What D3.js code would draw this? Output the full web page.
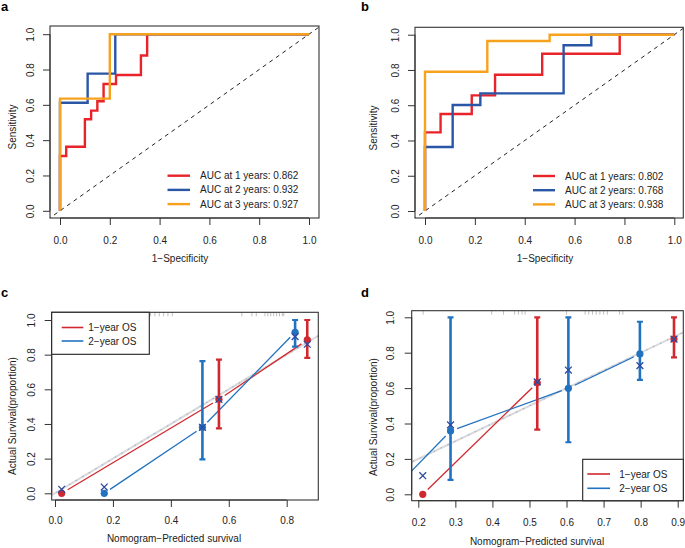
<!DOCTYPE html>
<html><head><meta charset="utf-8">
<script src="https://cdn.jsdelivr.net/npm/d3@7"></script>
<style>body{margin:0;background:#fff}svg{display:block}</style>
</head><body>
<svg id="chart" width="685" height="548"></svg>
<script>
// ---------------- DATA ----------------
const rocTicks = [0, 0.2, 0.4, 0.6, 0.8, 1.0];
const calTicksY = [0, 0.2, 0.4, 0.6, 0.8, 1.0];
const calTicksXc = [0, 0.2, 0.4, 0.6, 0.8];
const calTicksXd = [0.2, 0.3, 0.4, 0.5, 0.6, 0.7, 0.8, 0.9];

const rocALabels = ["AUC at 1 years: 0.862", "AUC at 2 years: 0.932", "AUC at 3 years: 0.927"];
const rocBLabels = ["AUC at 1 years: 0.802", "AUC at 2 years: 0.768", "AUC at 3 years: 0.938"];
const calLabels = ["1\u2212year OS", "2\u2212year OS"];

// panel a ROC corners (false positive rate, sensitivity)
const rocA_fpr1 = [0, 0, 0.025, 0.1, 0.125, 0.15, 0.175, 0.225, 0.325, 0.35, 1];
const rocA_tpr1 = [0, 0.31, 0.363, 0.518, 0.567, 0.62, 0.718, 0.769, 0.879, 1, 1];
const rocA_fpr2 = [0, 0, 0.111, 0.222, 1];
const rocA_tpr2 = [0, 0.612, 0.777, 1, 1];
const rocA_fpr3 = [0, 0, 0.2, 1];
const rocA_tpr3 = [0, 0.635, 1, 1];
// panel b
const rocB_fpr1 = [0, 0, 0.0625, 0.1875, 0.281, 0.47, 0.781, 1];
const rocB_tpr1 = [0, 0.446, 0.55, 0.656, 0.773, 0.892, 1, 1];
const rocB_fpr2 = [0, 0, 0.111, 0.222, 0.556, 0.667, 1];
const rocB_tpr2 = [0, 0.363, 0.601, 0.667, 0.94, 1, 1];
const rocB_fpr3 = [0, 0, 0.25, 0.5, 1];
const rocB_tpr3 = [0, 0.79, 0.964, 1, 1];

// panel c calibration
const calC_pred1 = [0.023, 0.566, 0.871];
const calC_obs1  = [0.0, 0.542, 0.885];
const calC_bc1   = [0.023, 0.542, 0.86];
const calC_lo1   = [null, 0.375, 0.782];
const calC_hi1   = [null, 0.771, 1.0];
const calC_join1 = [true, true];
const calC_pred2 = [0.17, 0.509, 0.829];
const calC_obs2  = [0.0, 0.381, 0.929];
const calC_bc2   = [0.036, 0.381, 0.904];
const calC_lo2   = [null, 0.196, 0.846];
const calC_hi2   = [null, 0.763, 1.0];
const calC_join2 = [true, true];
const calC_rug = [0.33, 0.345, 0.36, 0.375, 0.39, 0.405, 0.645, 0.68, 0.695, 0.725, 0.735, 0.745, 0.755, 0.765, 0.775, 0.785, 0.79];

// panel d calibration
const calD_pred1 = [0.212, 0.521, 0.89];
const calD_obs1  = [0.0, 0.63, 0.877];
const calD_bc1   = [0.105, 0.635, 0.877];
const calD_lo1   = [null, 0.365, 0.774];
const calD_hi1   = [null, 1.0, 1.0];
const calD_join1 = [true, false];
const calD_pred2 = [0.121, 0.287, 0.605, 0.798];
const calD_obs2  = [0.0, 0.358, 0.599, 0.793];
const calD_bc2   = [null, 0.392, 0.702, 0.727];
const calD_lo2   = [null, 0.082, 0.294, 0.646];
const calD_hi2   = [null, 1.0, 1.0, 0.975];
const calD_join2 = [true, true, true];
const calD_rug = [0.213, 0.398, 0.43, 0.46, 0.47, 0.48, 0.488, 0.6, 0.65, 0.66, 0.67, 0.68, 0.69, 0.70, 0.71, 0.743, 0.752];

// ---------------- STYLE ----------------
const FONT = "'Liberation Sans', Arial, Helvetica, sans-serif";
const TXT = "#222";
const rocColors = ["#e8232a", "#2a56a6", "#f7a21e"];
const calColors = ["#d0282f", "#2172c0"];
const xColor = "#2e4a9e";

const svg = d3.select("#chart");

function panel(cfg) {
  const g = svg.append("g");
  const [bx0, bx1, by0, by1] = cfg.box;
  const xs = d3.scaleLinear().domain(cfg.xd).range(cfg.xr);
  const ys = d3.scaleLinear().domain(cfg.yd).range(cfg.yr);
  const clipId = "clip-" + cfg.id;
  svg.append("clipPath").attr("id", clipId).append("rect")
    .attr("x", bx0).attr("y", by0).attr("width", bx1 - bx0).attr("height", by1 - by0);
  const inner = g.append("g").attr("clip-path", `url(#${clipId})`);
  // box
  g.append("rect").attr("x", bx0).attr("y", by0).attr("width", bx1 - bx0).attr("height", by1 - by0)
    .attr("fill", "none").attr("stroke", "#333").attr("stroke-width", 1.1);
  const fmt = d3.format(".1f");
  // x axis
  const xa = g.append("g").attr("transform", `translate(0,${by1})`)
    .call(d3.axisBottom(xs).tickValues(cfg.xt).tickFormat(fmt).tickSize(7).tickSizeOuter(0));
  xa.select(".domain").attr("d", `M${xs(cfg.xt[0])},0H${xs(cfg.xt[cfg.xt.length-1])}`).attr("stroke", "#333");
  xa.selectAll(".tick line").attr("stroke", "#333");
  xa.selectAll(".tick text").attr("y", cfg.xLabY - by1).attr("dy", "0.35em")
    .attr("font-family", FONT).attr("font-size", 10).attr("fill", TXT);
  // y axis
  const ya = g.append("g").attr("transform", `translate(${bx0},0)`)
    .call(d3.axisLeft(ys).tickValues(cfg.yt).tickFormat(fmt).tickSize(7).tickSizeOuter(0));
  ya.select(".domain").attr("d", `M0,${ys(cfg.yt[0])}V${ys(cfg.yt[cfg.yt.length-1])}`).attr("stroke", "#333");
  ya.selectAll(".tick line").attr("stroke", "#333");
  ya.selectAll(".tick text")
    .attr("x", null).attr("dy", null)
    .attr("transform", `translate(${cfg.yLabX - bx0},0) rotate(-90)`)
    .attr("text-anchor", "middle").attr("dominant-baseline", "central")
    .attr("font-family", FONT).attr("font-size", 10).attr("fill", TXT);
  ya.selectAll("text").attr("x", 0).attr("y", 0);
  xa.attr("font-family", FONT); ya.attr("font-family", FONT);
  // titles
  g.append("text").attr("x", cfg.xTitle[1]).attr("y", cfg.xTitle[2]).attr("text-anchor", "middle")
    .attr("dominant-baseline", "central").attr("font-family", FONT).attr("font-size", 10).attr("fill", TXT)
    .text(cfg.xTitle[0]);
  g.append("text").attr("transform", `translate(${cfg.yTitle[1]},${cfg.yTitle[2]}) rotate(-90)`)
    .attr("text-anchor", "middle").attr("dominant-baseline", "central")
    .attr("font-family", FONT).attr("font-size", 10).attr("fill", TXT).text(cfg.yTitle[0]);
  // panel letter
  g.append("text").attr("x", cfg.letter[1]).attr("y", cfg.letter[2]).attr("font-family", FONT)
    .attr("font-weight", "bold").attr("font-size", 13).attr("fill", "#000").text(cfg.letter[0]);
  return {g, inner, xs, ys};
}

// ---------------- ROC PANELS ----------------
function rocPanel(cfg, curves, labels, leg) {
  const p = panel(cfg);
  // chance line
  p.inner.append("line")
    .attr("x1", p.xs(-0.05)).attr("y1", p.ys(-0.05)).attr("x2", p.xs(1.05)).attr("y2", p.ys(1.05))
    .attr("stroke", "#222").attr("stroke-width", 1).attr("stroke-dasharray", "4,4");
  const line = d3.line().x(d => p.xs(d[0])).y(d => p.ys(d[1])).curve(d3.curveStepAfter);
  curves.forEach((c, i) => {
    const pts = c[0].map((f, k) => [f, c[1][k]]);
    p.inner.append("path").attr("d", line(pts)).attr("fill", "none")
      .attr("stroke", rocColors[i]).attr("stroke-width", 2.4);
  });
  labels.forEach((t, i) => {
    const y = leg.y + i * leg.dy;
    p.g.append("line").attr("x1", leg.x1).attr("x2", leg.x2).attr("y1", y).attr("y2", y)
      .attr("stroke", rocColors[i]).attr("stroke-width", 2.4);
    p.g.append("text").attr("x", leg.tx).attr("y", y).attr("dominant-baseline", "central")
      .attr("font-family", FONT).attr("font-size", 10).attr("fill", TXT).text(t);
  });
}

rocPanel({id: "a", box: [50, 319, 26, 218], xd: [0, 1], xr: [60, 309], yd: [0, 1], yr: [210.8, 34.2],
  xt: rocTicks, yt: rocTicks, xLabY: 240, yLabX: 30,
  xTitle: ["1\u2212Specificity", 180, 258], yTitle: ["Sensitivity", 12, 127], letter: ["a", 1, 11]},
  [[rocA_fpr1, rocA_tpr1], [rocA_fpr2, rocA_tpr2], [rocA_fpr3, rocA_tpr3]], rocALabels,
  {x1: 167.5, x2: 190, tx: 200, y: 175.7, dy: 14.2});

rocPanel({id: "b", box: [415, 683.3, 27.3, 218], xd: [0, 1], xr: [425, 674.3], yd: [0, 1], yr: [211, 34.7],
  xt: rocTicks, yt: rocTicks, xLabY: 240, yLabX: 395,
  xTitle: ["1\u2212Specificity", 545, 258], yTitle: ["Sensitivity", 373, 128], letter: ["b", 361, 11]},
  [[rocB_fpr1, rocB_tpr1], [rocB_fpr2, rocB_tpr2], [rocB_fpr3, rocB_tpr3]], rocBLabels,
  {x1: 533, x2: 555, tx: 565, y: 176, dy: 14.2});

// ---------------- CALIBRATION PANELS ----------------
function calPanel(cfg, series, rug, leg) {
  const p = panel(cfg);
  const [bx0, bx1, by0, by1] = cfg.box;
  // rug of predictions along top
  p.inner.selectAll(".rug").data(rug).join("line")
    .attr("x1", d => p.xs(d)).attr("x2", d => p.xs(d)).attr("y1", by0).attr("y2", by0 + 4)
    .attr("stroke", "#b0b0b0").attr("stroke-width", 0.8);
  // ideal line
  const lo = p.xs.invert(bx0) - 0.05, hi = p.xs.invert(bx1) + 0.05;
  p.inner.append("line").attr("x1", p.xs(lo)).attr("y1", p.ys(lo)).attr("x2", p.xs(hi)).attr("y2", p.ys(hi))
    .attr("stroke", "#d9d9d9").attr("stroke-width", 2);
  p.inner.append("line").attr("x1", p.xs(lo)).attr("y1", p.ys(lo)).attr("x2", p.xs(hi)).attr("y2", p.ys(hi))
    .attr("stroke", "#9fb5d8").attr("stroke-width", 1.4).attr("stroke-linecap", "round")
    .attr("stroke-dasharray", "0.1,7.5");
  const gap = 7;
  series.forEach((s, si) => {
    const col = calColors[si];
    // connecting lines with gaps at points
    for (let k = 0; k < s.pred.length - 1; k++) {
      if (!s.join[k]) continue;
      const xA = p.xs(s.pred[k]), yA = p.ys(s.obs[k]);
      const xB = p.xs(s.pred[k + 1]), yB = p.ys(s.obs[k + 1]);
      const L = Math.hypot(xB - xA, yB - yA);
      const ux = (xB - xA) / L, uy = (yB - yA) / L;
      p.inner.append("line").attr("x1", xA + ux * gap).attr("y1", yA + uy * gap)
        .attr("x2", xB - ux * gap).attr("y2", yB - uy * gap)
        .attr("stroke", col).attr("stroke-width", 1.3);
    }
  });
  series.forEach((s, si) => {
    const col = calColors[si];
    s.pred.forEach((x, k) => {
      if (s.lo[k] == null) return;
      const px = p.xs(x);
      p.inner.append("line").attr("x1", px).attr("x2", px).attr("y1", p.ys(s.lo[k])).attr("y2", p.ys(s.hi[k]))
        .attr("stroke", col).attr("stroke-width", 2.6);
      [s.lo[k], s.hi[k]].forEach(v => {
        p.inner.append("line").attr("x1", px - 3).attr("x2", px + 3).attr("y1", p.ys(v)).attr("y2", p.ys(v))
          .attr("stroke", col).attr("stroke-width", 2.2);
      });
    });
    s.pred.forEach((x, k) => {
      p.inner.append("circle").attr("cx", p.xs(x)).attr("cy", p.ys(s.obs[k])).attr("r", 3.6).attr("fill", col);
    });
  });
  series.forEach(s => {
    s.pred.forEach((x, k) => {
      if (s.bc[k] == null) return;
      const cx = p.xs(x), cy = p.ys(s.bc[k]), r = 3.4;
      p.inner.append("path").attr("d", `M${cx-r},${cy-r}L${cx+r},${cy+r}M${cx-r},${cy+r}L${cx+r},${cy-r}`)
        .attr("stroke", xColor).attr("stroke-width", 1.3).attr("fill", "none");
    });
  });
  // legend
  p.g.append("rect").attr("x", leg.box[0]).attr("y", leg.box[1]).attr("width", leg.box[2] - leg.box[0])
    .attr("height", leg.box[3] - leg.box[1]).attr("fill", "#fff").attr("stroke", "#222").attr("stroke-width", 1.1);
  calLabels.forEach((t, i) => {
    const y = leg.y + i * leg.dy;
    p.g.append("line").attr("x1", leg.x1).attr("x2", leg.x2).attr("y1", y).attr("y2", y)
      .attr("stroke", calColors[i]).attr("stroke-width", 1.6);
    p.g.append("text").attr("x", leg.tx).attr("y", y).attr("dominant-baseline", "central")
      .attr("font-family", FONT).attr("font-size", 10).attr("fill", TXT).text(t);
  });
}

calPanel({id: "c", box: [51.7, 318.3, 312.3, 500], xd: [0, 0.8], xr: [55, 286.7], yd: [0, 1], yr: [493.3, 320],
  xt: calTicksXc, yt: calTicksY, xLabY: 520, yLabX: 31.5,
  xTitle: ["Nomogram\u2212Predicted survival", 174, 538], yTitle: ["Actual Survival(proportion)", 12, 416],
  letter: ["c", 1, 297]},
  [{pred: calC_pred1, obs: calC_obs1, bc: calC_bc1, lo: calC_lo1, hi: calC_hi1, join: calC_join1},
   {pred: calC_pred2, obs: calC_obs2, bc: calC_bc2, lo: calC_lo2, hi: calC_hi2, join: calC_join2}],
  calC_rug, {box: [51.7, 312.3, 149.3, 354.3], x1: 61.7, x2: 83.3, tx: 88.3, y: 327.5, dy: 13.5});

calPanel({id: "d", box: [411.7, 683.3, 310.7, 500.7], xd: [0.2, 0.9], xr: [418.3, 677.7], yd: [0, 1], yr: [494.3, 317.3],
  xt: calTicksXd, yt: calTicksY, xLabY: 523, yLabX: 390,
  xTitle: ["Nomogram\u2212Predicted survival", 537, 541.5], yTitle: ["Actual Survival(proportion)", 373, 417],
  letter: ["d", 361, 297]},
  [{pred: calD_pred1, obs: calD_obs1, bc: calD_bc1, lo: calD_lo1, hi: calD_hi1, join: calD_join1},
   {pred: calD_pred2, obs: calD_obs2, bc: calD_bc2, lo: calD_lo2, hi: calD_hi2, join: calD_join2}],
  calD_rug, {box: [582.7, 459.3, 683.3, 500.7], x1: 587.3, x2: 610, tx: 619.3, y: 474, dy: 14.3});
</script>
</body></html>
